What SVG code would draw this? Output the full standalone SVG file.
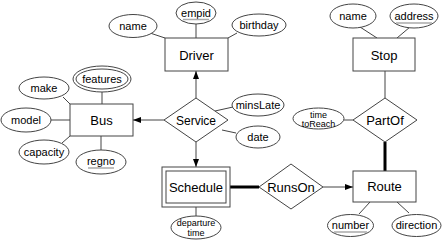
<svg xmlns="http://www.w3.org/2000/svg" width="442" height="241" viewBox="0 0 442 241">
  <style>
    .shape { fill: #fff; stroke: #444; stroke-width: 1; }
    .line { stroke: #444; stroke-width: 1; fill: none; }
    .thick { stroke: #000; stroke-width: 3; fill: none; }
    .key { stroke: #aaa; stroke-width: 1.5; }
    text { font-family: "Liberation Sans", Arial, sans-serif; fill: #000; text-anchor: middle; dominant-baseline: central; }
    .ent { font-size: 13px; }
    .rel { font-size: 12px; }
    .att { font-size: 11px; }
    .small { font-size: 9px; }
  </style>
  <defs>
    <marker id="arrow" viewBox="0 0 8 6" refX="8" refY="3" markerWidth="8" markerHeight="6" markerUnits="userSpaceOnUse" orient="auto">
      <path d="M0,0 L8,3 L0,6 Z" fill="#000"/>
    </marker>
  </defs>

  <!-- connectors -->
  <g id="connectors">
    <!-- Driver attributes -->
    <line class="line" x1="150" y1="33" x2="165" y2="38"/>
    <line class="line" x1="196" y1="24" x2="196" y2="38"/>
    <line class="line" x1="237" y1="33" x2="228" y2="38"/>
    <!-- Bus attributes -->
    <line class="line" x1="102" y1="92" x2="102" y2="104"/>
    <line class="line" x1="63" y1="97" x2="70" y2="104"/>
    <line class="line" x1="51" y1="120" x2="70" y2="120"/>
    <line class="line" x1="62" y1="143" x2="70" y2="136"/>
    <line class="line" x1="101" y1="136" x2="101" y2="150"/>
    <!-- Service relationship -->
    <line class="line" x1="196" y1="98" x2="196" y2="71" marker-end="url(#arrow)"/>
    <line class="line" x1="164" y1="120" x2="133" y2="120" marker-end="url(#arrow)"/>
    <line class="line" x1="196" y1="142" x2="196" y2="167" marker-end="url(#arrow)"/>
    <line class="line" x1="215" y1="111" x2="233" y2="107"/>
    <line class="line" x1="222" y1="130" x2="236" y2="133"/>
    <!-- Schedule -->
    <line class="line" x1="196" y1="207" x2="196" y2="216"/>
    <line class="thick" x1="230" y1="187" x2="259" y2="187"/>
    <line class="line" x1="323" y1="187" x2="353" y2="187" marker-end="url(#arrow)"/>
    <!-- Stop / PartOf / Route -->
    <line class="line" x1="360" y1="27" x2="377" y2="38"/>
    <line class="line" x1="410" y1="27" x2="397" y2="38"/>
    <line class="line" x1="385" y1="71" x2="385" y2="98"/>
    <line class="line" x1="344" y1="120" x2="353" y2="120"/>
    <line class="thick" x1="385" y1="142" x2="385" y2="171"/>
    <line class="line" x1="370" y1="202" x2="359" y2="214"/>
    <line class="line" x1="397" y1="202" x2="409" y2="213"/>
  </g>

  <!-- Driver -->
  <g id="driver">
    <rect class="shape" x="165" y="38" width="63" height="33"/>
    <text class="ent" x="196.5" y="55">Driver</text>
  </g>
  <g id="driver-name">
    <ellipse class="shape" cx="133" cy="26" rx="24" ry="11.5"/>
    <text class="att" x="133" y="26">name</text>
  </g>
  <g id="driver-empid">
    <ellipse class="shape" cx="196" cy="13" rx="20" ry="11"/>
    <text class="att" x="196" y="12.5">empid</text>
    <line class="key" x1="183" y1="19.5" x2="209" y2="19.5"/>
  </g>
  <g id="driver-birthday">
    <ellipse class="shape" cx="259" cy="25" rx="27" ry="11"/>
    <text class="att" x="259" y="25">birthday</text>
  </g>

  <!-- Bus -->
  <g id="bus">
    <rect class="shape" x="70" y="104" width="63" height="32"/>
    <text class="ent" x="101.5" y="120">Bus</text>
  </g>
  <g id="bus-features">
    <ellipse class="shape" cx="102" cy="79" rx="29" ry="13"/>
    <ellipse class="shape" cx="102" cy="79" rx="26" ry="10"/>
    <text class="att" x="102" y="79">features</text>
  </g>
  <g id="bus-make">
    <ellipse class="shape" cx="44" cy="88" rx="25" ry="11"/>
    <text class="att" x="44" y="88">make</text>
  </g>
  <g id="bus-model">
    <ellipse class="shape" cx="26" cy="120" rx="25" ry="12"/>
    <text class="att" x="26" y="120">model</text>
  </g>
  <g id="bus-capacity">
    <ellipse class="shape" cx="44" cy="152" rx="25" ry="12"/>
    <text class="att" x="44" y="152">capacity</text>
  </g>
  <g id="bus-regno">
    <ellipse class="shape" cx="101" cy="162" rx="25" ry="12"/>
    <text class="att" x="101" y="161">regno</text>
    <line class="key" x1="88" y1="168" x2="114" y2="168"/>
  </g>

  <!-- Service -->
  <g id="service">
    <polygon class="shape" points="196,98 228,120 196,142 164,120"/>
    <text class="rel" x="196" y="121">Service</text>
  </g>
  <g id="service-minslate">
    <ellipse class="shape" cx="258" cy="105" rx="26" ry="11"/>
    <text class="att" x="258" y="105">minsLate</text>
  </g>
  <g id="service-date">
    <ellipse class="shape" cx="258" cy="137" rx="22" ry="11"/>
    <text class="att" x="258" y="137">date</text>
  </g>

  <!-- Schedule (weak entity) -->
  <g id="schedule">
    <rect class="shape" x="162" y="167" width="68" height="40"/>
    <rect class="shape" x="166" y="171" width="60" height="32"/>
    <text class="ent" x="196" y="187">Schedule</text>
  </g>
  <g id="schedule-departure">
    <ellipse class="shape" cx="196" cy="227.5" rx="25" ry="11.5"/>
    <text class="small" x="196" y="223">departure</text>
    <text class="small" x="196" y="232.5">time</text>
  </g>

  <!-- RunsOn -->
  <g id="runson">
    <polygon class="shape" points="291,164 323,187 291,209 259,187"/>
    <text class="ent" x="291" y="187">RunsOn</text>
  </g>

  <!-- Stop -->
  <g id="stop">
    <rect class="shape" x="353" y="38" width="62" height="33"/>
    <text class="ent" x="384" y="55">Stop</text>
  </g>
  <g id="stop-name">
    <ellipse class="shape" cx="353" cy="16" rx="23" ry="12"/>
    <text class="att" x="353" y="16">name</text>
  </g>
  <g id="stop-address">
    <ellipse class="shape" cx="414" cy="16" rx="24" ry="12"/>
    <text class="att" x="414" y="15.5">address</text>
    <line class="key" x1="396" y1="23" x2="432" y2="23"/>
  </g>

  <!-- PartOf -->
  <g id="partof">
    <polygon class="shape" points="385,98 417,120 385,142 353,120"/>
    <text class="ent" x="385" y="120">PartOf</text>
  </g>
  <g id="partof-time">
    <ellipse class="shape" cx="318.5" cy="118.5" rx="25.5" ry="10.5"/>
    <text class="small" x="318.5" y="114.5">time</text>
    <text class="small" x="318.5" y="123.5">toReach</text>
  </g>

  <!-- Route -->
  <g id="route">
    <rect class="shape" x="353" y="171" width="63" height="31"/>
    <text class="ent" x="384.5" y="186.5">Route</text>
  </g>
  <g id="route-number">
    <ellipse class="shape" cx="350.5" cy="225.5" rx="23" ry="11"/>
    <text class="att" x="350.5" y="225">number</text>
    <line class="key" x1="334" y1="232" x2="367" y2="232"/>
  </g>
  <g id="route-direction">
    <ellipse class="shape" cx="416.5" cy="225.5" rx="24.5" ry="11"/>
    <text class="att" x="416.5" y="225">direction</text>
  </g>
</svg>
